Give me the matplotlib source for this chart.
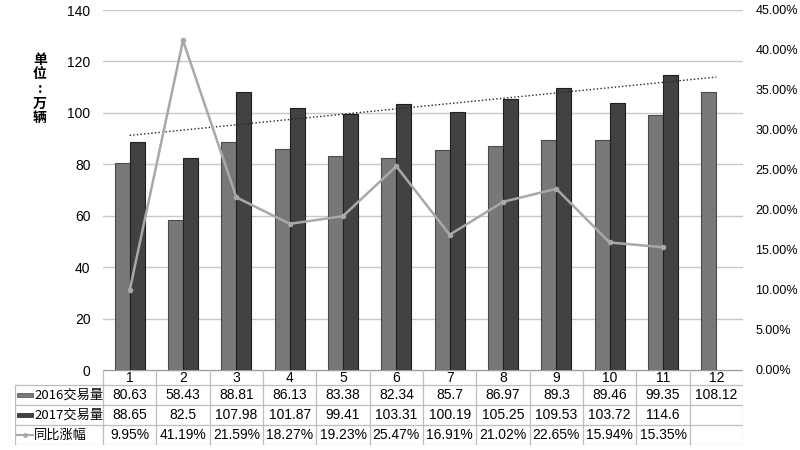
import numpy as np
import matplotlib
matplotlib.use("Agg")
from matplotlib import pyplot as plt
from matplotlib.patches import Rectangle
from matplotlib.lines import Line2D

plt.rcParams["font.family"] = ["Liberation Sans", "Noto Sans CJK SC", "DejaVu Sans"]

months = ["1", "2", "3", "4", "5", "6", "7", "8", "9", "10", "11", "12"]
vol_2016 = [80.63, 58.43, 88.81, 86.13, 83.38, 82.34, 85.7, 86.97, 89.3, 89.46, 99.35, 108.12]
vol_2017 = [88.65, 82.5, 107.98, 101.87, 99.41, 103.31, 100.19, 105.25, 109.53, 103.72, 114.6]
yoy = [9.95, 41.19, 21.59, 18.27, 19.23, 25.47, 16.91, 21.02, 22.65, 15.94, 15.35]
row_labels = ["2016交易量", "2017交易量", "同比涨幅"]
row_text = [
    ["80.63", "58.43", "88.81", "86.13", "83.38", "82.34", "85.7", "86.97", "89.3", "89.46", "99.35", "108.12"],
    ["88.65", "82.5", "107.98", "101.87", "99.41", "103.31", "100.19", "105.25", "109.53", "103.72", "114.6", ""],
    ["9.95%", "41.19%", "21.59%", "18.27%", "19.23%", "25.47%", "16.91%", "21.02%", "22.65%", "15.94%", "15.35%", ""],
]

c16 = "#787878"
c17 = "#424242"
cline = "#a8a8a8"
grid_c = "#c8c8c8"

W, H = 800, 450
fig = plt.figure(figsize=(8, 4.5), dpi=100)
ax = fig.add_axes([103 / W, 1 - 370 / H, 640 / W, 360 / H])

x = np.arange(1, len(months) + 1)
bw = 0.28
ax.bar(x - bw / 2, vol_2016, bw, color=c16, edgecolor="#4a4a4a", linewidth=0.8, zorder=3)
ax.bar(x[:len(vol_2017)] + bw / 2, vol_2017, bw, color=c17, edgecolor="#1e1e1e",
       linewidth=0.8, zorder=3)

# linear trend of 2017 volume, extended over the year
k, b = np.polyfit(x[:len(vol_2017)], vol_2017, 1)
ax.plot([x[0], x[-1]], [k * x[0] + b, k * x[-1] + b], color="#222222",
        linestyle=(0, (1, 1.6)), linewidth=1.0, zorder=5)

ax.set_xlim(0.5, 12.5)
ax.set_ylim(0, 140)
ax.set_yticks(np.arange(0, 141, 20))
ax.yaxis.grid(True, color=grid_c, linewidth=1)
ax.set_axisbelow(True)
ax.set_xticks([])
for s in ax.spines.values():
    s.set_visible(False)
ax.tick_params(axis="y", length=0, labelsize=10, pad=9)

ax2 = ax.twinx()
ax2.plot(x[:len(yoy)], yoy, color=cline, linewidth=1.8, marker="o", markersize=3,
         zorder=6)
ax2.set_ylim(0, 45)
ax2.set_yticks(np.arange(0, 46, 5))
ax2.set_yticklabels([f"{v:.2f}%" for v in np.arange(0, 46, 5)])
ax2.tick_params(axis="y", length=0, labelsize=9, pad=9)
for s in ax2.spines.values():
    s.set_visible(False)
ax2.set_xlim(0.5, 12.5)

fig.text(40 / W, 1 - 89 / H, "单\n位\n:\n万\n辆", family="Noto Sans CJK SC",
         fontsize=10, fontweight="bold", ha="center", va="center", linespacing=1.05)

# data table under the chart
unit = 640 / 12
left_x = 0.5 - (103 - 15) / unit
tax = fig.add_axes([15 / W, 1 - 445 / H, (743 - 15) / W, 75 / H])
tax.set_xlim(left_x, 12.5)
tax.set_ylim(75, 0)
tax.axis("off")
lc = "#bdbdbd"
bounds = [0, 15, 35, 55, 75]
tax.plot([0.5, 12.5], [0, 0], color="#9a9a9a", lw=1)
for yb in bounds[1:]:
    tax.plot([left_x, 12.5], [yb, yb], color=lc, lw=0.9)
for xv in np.arange(0.5, 13.0, 1.0):
    tax.plot([xv, xv], [0, 75], color=lc, lw=0.9)
tax.plot([left_x, left_x], [15, 75], color=lc, lw=0.9)

tfont = dict(family=["Liberation Sans", "Noto Sans CJK SC"], fontsize=10,
             ha="center", va="center")
for i, m in enumerate(months):
    tax.text(x[i], 7.5, m, **tfont)
for r, vals in enumerate(row_text):
    yc = (bounds[r + 1] + bounds[r + 2]) / 2
    for i, v in enumerate(vals):
        tax.text(x[i], yc, v, **tfont)
    tax.text(left_x + 19 / unit, yc, row_labels[r], family=["Noto Sans CJK SC", "DejaVu Sans"],
             fontsize=9.5, ha="left", va="center")

sw = 16 / unit
sx = left_x + 2 / unit
tax.add_patch(Rectangle((sx, 25 - 2), sw, 4, facecolor=c16, edgecolor="#4a4a4a", lw=0.5))
tax.add_patch(Rectangle((sx, 45 - 2), sw, 4, facecolor=c17, edgecolor="#1e1e1e", lw=0.5))
tax.add_line(Line2D([sx, sx + sw], [65, 65], color=cline, lw=1.5))
tax.plot([sx + sw / 2], [65], marker="o", markersize=2.5, color=cline)

fig.savefig("out.png", dpi=100)
